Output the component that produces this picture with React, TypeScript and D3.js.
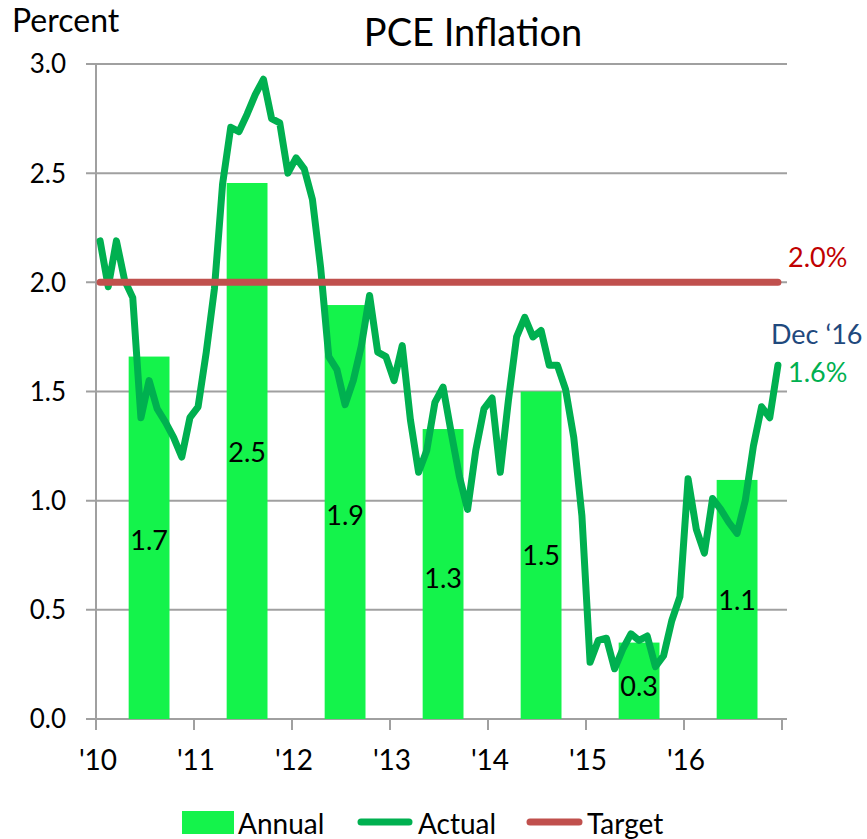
import React from 'react';
import * as d3 from 'd3';

const actual: number[] = [
  2.19, 1.98, 2.19, 2.01, 1.93, 1.38, 1.55, 1.42, 1.36, 1.29, 1.20, 1.38,
  1.43, 1.68, 1.97, 2.45, 2.71, 2.69, 2.77, 2.86, 2.93, 2.75, 2.73, 2.50,
  2.57, 2.52, 2.38, 2.07, 1.66, 1.60, 1.44, 1.55, 1.71, 1.94, 1.68, 1.66,
  1.55, 1.71, 1.37, 1.13, 1.23, 1.45, 1.52, 1.31, 1.11, 0.96, 1.23, 1.42,
  1.47, 1.13, 1.46, 1.75, 1.84, 1.75, 1.78, 1.62, 1.62, 1.51, 1.29, 0.93,
  0.26, 0.36, 0.37, 0.23, 0.32, 0.39, 0.36, 0.38, 0.24, 0.29, 0.45, 0.56,
  1.10, 0.87, 0.76, 1.01, 0.96, 0.90, 0.85, 1.00, 1.25, 1.43, 1.38, 1.62,
];
const yearLabels: string[] = ["'10", "'11", "'12", "'13", "'14", "'15", "'16"];
const annual: number[] = [1.66, 2.455, 1.896, 1.328, 1.50, 0.35, 1.095];
const annualLabels: string[] = ['1.7', '2.5', '1.9', '1.3', '1.5', '0.3', '1.1'];
const annualLabelPos: number[] = [0.82, 1.22, 0.935, 0.646, 0.75, 0.15, 0.545];
const yTicks: number[] = [0, 0.5, 1.0, 1.5, 2.0, 2.5, 3.0];
const target = 2.0;

const FONT = 'Lato, "Open Sans", sans-serif';

export default function App() {
  const x = d3.scaleLinear().domain([-0.5, 83.5]).range([96, 782]);
  const y = d3.scaleLinear().domain([0, 3]).range([719, 64]);
  const plotRight = 787;

  const line = d3
    .line<number>()
    .x((_, i) => x(i))
    .y((d) => y(d));

  const bars = annual.map((v, k) => {
    const c = 12 * k + 6;
    return { v, x0: x(c - 2.5), x1: x(c + 2.5), cx: x(c), k };
  });

  return (
    <div style={{ position: 'absolute', left: 0, top: 0 }}>
      <svg width={867} height={839} style={{ display: 'block', background: '#fff' }} fontFamily={FONT}>
        {yTicks.map((t) => (
          <line key={'g' + t} x1={86} x2={plotRight} y1={y(t)} y2={y(t)} stroke="#A0A0A0" strokeWidth={2} />
        ))}
        <line x1={x(-0.5)} x2={x(-0.5)} y1={y(3)} y2={y(0) + 11} stroke="#A0A0A0" strokeWidth={2} />
        {d3.range(8).map((k) => (
          <line key={'xt' + k} x1={x(12 * k - 0.5)} x2={x(12 * k - 0.5)} y1={y(0)} y2={y(0) + 11} stroke="#A0A0A0" strokeWidth={2} />
        ))}
        {yTicks.map((t) => (
          <text key={'yl' + t} x={66} y={y(t)} dy="0.36em" textAnchor="end" fontSize={26} fill="#000">
            {t.toFixed(1)}
          </text>
        ))}
        {yearLabels.map((l, k) => (
          <text key={'xl' + l} x={x(12 * k - 0.5) + 2} y={770} textAnchor="middle" fontSize={28} fill="#000">
            {l}
          </text>
        ))}
        {bars.map((b) => (
          <rect key={'b' + b.k} x={b.x0} y={y(b.v)} width={b.x1 - b.x0} height={y(0) - y(b.v)} fill="#14F34B" />
        ))}
        <path d={line(actual) || ''} fill="none" stroke="#00B050" strokeWidth={7} strokeLinejoin="round" strokeLinecap="round" />
        <line x1={x(0)} x2={x(83)} y1={y(target)} y2={y(target)} stroke="#C0504D" strokeWidth={7} strokeLinecap="round" />
        {bars.map((b) => (
          <text key={'bl' + b.k} x={b.cx} y={y(annualLabelPos[b.k])} dy="0.36em" textAnchor="middle" fontSize={27} fill="#000">
            {annualLabels[b.k]}
          </text>
        ))}
        <text x={788} y={267} fontSize={27} fill="#C00000">2.0%</text>
        <text x={771} y={344} fontSize={27} fill="#1F497D">Dec ‘16</text>
        <text x={788} y={382} fontSize={27} fill="#00B050">1.6%</text>
        <text x={473} y={46} textAnchor="middle" fontSize={38} fill="#000">PCE Inflation</text>
        <text x={12} y={32} fontSize={32} fill="#000">Percent</text>
        <rect x={182} y={811} width={52} height={23} fill="#14F34B" />
        <text x={238} y={834} fontSize={28} fill="#000">Annual</text>
        <line x1={361} x2={409} y1={822} y2={822} stroke="#00B050" strokeWidth={7} strokeLinecap="round" />
        <text x={418} y={834} fontSize={28} fill="#000">Actual</text>
        <line x1={530} x2={579} y1={822} y2={822} stroke="#C0504D" strokeWidth={7} strokeLinecap="round" />
        <text x={587} y={834} fontSize={28} fill="#000">Target</text>
      </svg>
    </div>
  );
}
